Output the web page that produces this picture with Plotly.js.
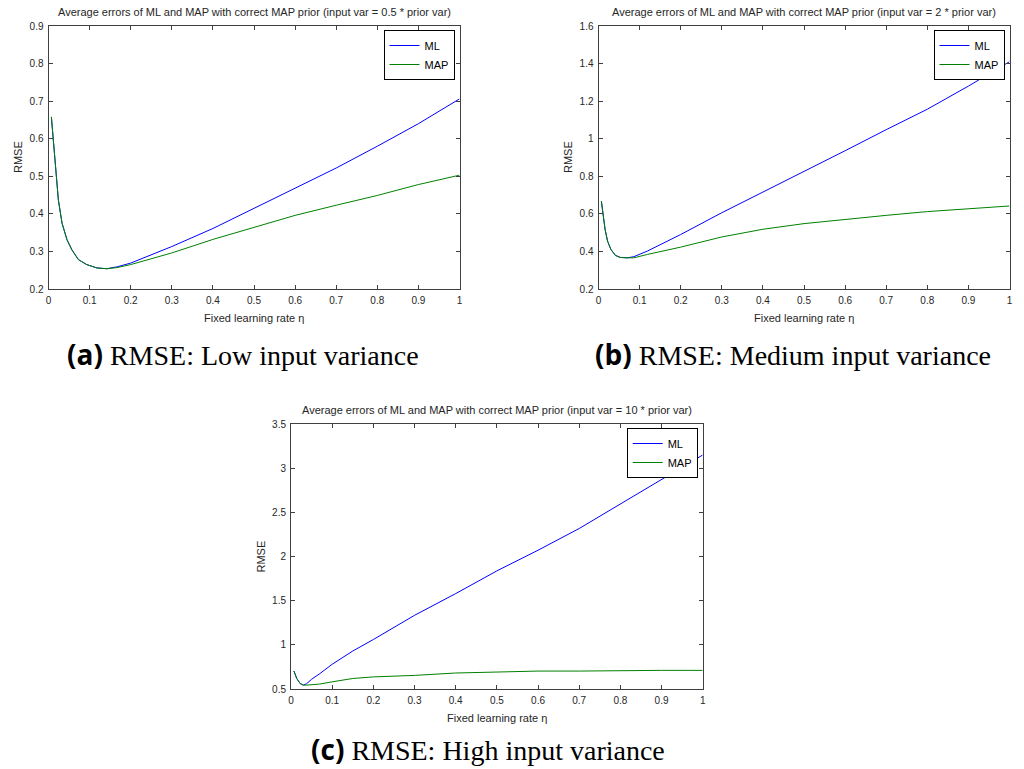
<!DOCTYPE html>
<html>
<head>
<meta charset="utf-8">
<script src="https://cdn.plot.ly/plotly-3.0.1.min.js"></script>
<style>
html,body{margin:0;padding:0;background:#fff;}
#chart{width:1024px;height:769px;}
</style>
</head>
<body>
<div id="chart"></div>
<script>
// ---- Data ----
const etaA = [0.007,0.011,0.014,0.019,0.024,0.033,0.045,0.057,0.073,0.093,0.118,0.142,0.167,0.2,0.3,0.4,0.5,0.6,0.7,0.8,0.9,1.0];
const mlA  = [0.658,0.605,0.57,0.499,0.437,0.375,0.331,0.304,0.278,0.265,0.256,0.254,0.259,0.269,0.313,0.361,0.414,0.468,0.522,0.58,0.64,0.706];
const mapA = [0.658,0.605,0.57,0.499,0.437,0.375,0.331,0.304,0.278,0.265,0.256,0.254,0.257,0.265,0.296,0.332,0.363,0.396,0.423,0.449,0.478,0.503];

const etaB = [0.007,0.012,0.016,0.022,0.030,0.041,0.053,0.070,0.086,0.119,0.16,0.2,0.3,0.4,0.5,0.6,0.7,0.8,0.9,1.0];
const mlB  = [0.667,0.588,0.517,0.455,0.411,0.379,0.368,0.366,0.372,0.402,0.446,0.49,0.606,0.716,0.823,0.936,1.048,1.157,1.28,1.41];
const mapB = [0.667,0.588,0.517,0.455,0.411,0.379,0.368,0.366,0.366,0.384,0.402,0.423,0.477,0.518,0.548,0.571,0.592,0.612,0.627,0.642];

const etaC = [0.007,0.014,0.022,0.030,0.038,0.05,0.07,0.1,0.15,0.2,0.3,0.4,0.5,0.6,0.7,0.8,0.9,1.0];
const mlC  = [0.704,0.619,0.563,0.544,0.56,0.61,0.674,0.78,0.93,1.06,1.334,1.58,1.837,2.071,2.317,2.593,2.865,3.149];
const mapC = [0.704,0.619,0.563,0.544,0.544,0.548,0.556,0.581,0.619,0.637,0.654,0.681,0.692,0.703,0.703,0.711,0.711,0.711];

const seriesNames = ["ML", "MAP"];
const xTicks = [0,0.1,0.2,0.3,0.4,0.5,0.6,0.7,0.8,0.9,1];
const yTicksA = [0.2,0.3,0.4,0.5,0.6,0.7,0.8,0.9];
const yTicksB = [0.2,0.4,0.6,0.8,1,1.2,1.4,1.6];
const yTicksC = [0.5,1,1.5,2,2.5,3,3.5];

const plotTitles = [
  "Average errors of ML and MAP with correct MAP prior (input var = 0.5 * prior var)",
  "Average errors of ML and MAP with correct MAP prior (input var = 2 * prior var)",
  "Average errors of ML and MAP with correct MAP prior (input var = 10 * prior var)"
];
const xLabel = "Fixed learning rate η";
const yLabel = "RMSE";
const captionTags = ["(a)", "(b)", "(c)"];
const captionTexts = ["RMSE: Low input variance", "RMSE: Medium input variance", "RMSE: High input variance"];

// ---- Layout helpers ----
const W = 1024, H = 769;
const px = v => v / W;
const py = v => 1 - v / H;

const colML = "#0000ff", colMAP = "#008000";
const tickFont = {family: "Liberation Sans, Arial, sans-serif", size: 10, color: "#262626"};
const smallFont = {family: "Liberation Sans, Arial, sans-serif", size: 11, color: "#262626"};
const frameCol = "#404040";

function axis(domain, range, ticks) {
  return {
    domain: domain, range: range, tickmode: "array", tickvals: ticks,
    ticks: "inside", ticklen: 4, tickcolor: frameCol, tickwidth: 1,
    showline: true, linecolor: frameCol, linewidth: 1, mirror: "ticks",
    showgrid: false, zeroline: false, tickfont: tickFont, ticklabelstandoff: 2,
    fixedrange: true
  };
}

const traces = [];
const sets = [
  {eta: etaA, ml: mlA, map: mapA, xa: "x", ya: "y", lg: "legend"},
  {eta: etaB, ml: mlB, map: mapB, xa: "x2", ya: "y2", lg: "legend2"},
  {eta: etaC, ml: mlC, map: mapC, xa: "x3", ya: "y3", lg: "legend3"}
];
sets.forEach(s => {
  traces.push({x: s.eta, y: s.ml, type: "scatter", mode: "lines", name: seriesNames[0],
    xaxis: s.xa, yaxis: s.ya, legend: s.lg, line: {color: colML, width: 1}});
  traces.push({x: s.eta, y: s.map, type: "scatter", mode: "lines", name: seriesNames[1],
    xaxis: s.xa, yaxis: s.ya, legend: s.lg, line: {color: colMAP, width: 1}});
});

// plot boxes in pixels
const boxes = [
  {l: 48.5, r: 459.5, t: 26, b: 289},
  {l: 598.5, r: 1009.5, t: 26, b: 289},
  {l: 291, r: 702.7, t: 424, b: 689}
];
const yRanges = [[0.2, 0.9], [0.2, 1.6], [0.5, 3.5]];
const yTickSets = [yTicksA, yTicksB, yTicksC];

function legendFor(b) {
  return {
    x: px(b.r - 5), y: py(b.t + 4), xanchor: "right", yanchor: "top",
    bgcolor: "#ffffff", bordercolor: "#000000", borderwidth: 1,
    font: {family: "Liberation Sans, Arial, sans-serif", size: 11, color: "#000"},
    tracegroupgap: 0, itemwidth: 30
  };
}

const layout = {
  width: W, height: H,
  margin: {l: 0, r: 0, t: 0, b: 0},
  paper_bgcolor: "#ffffff", plot_bgcolor: "#ffffff",
  showlegend: true,
  legend: legendFor(boxes[0]),
  legend2: legendFor(boxes[1]),
  legend3: legendFor(boxes[2]),
  annotations: []
};
["", "2", "3"].forEach((k, i) => {
  const b = boxes[i];
  layout["xaxis" + k] = axis([px(b.l), px(b.r)], [0, 1], xTicks);
  layout["yaxis" + k] = axis([py(b.b), py(b.t)], yRanges[i], yTickSets[i]);
  layout["xaxis" + k].anchor = "y" + k;
  layout["yaxis" + k].anchor = "x" + k;
  const cx = (b.l + b.r) / 2, cy = (b.t + b.b) / 2;
  layout.annotations.push({text: plotTitles[i], xref: "paper", yref: "paper",
    x: px(cx), y: py(b.t - 14), xanchor: "center", yanchor: "middle", showarrow: false, font: smallFont});
  layout.annotations.push({text: xLabel, xref: "paper", yref: "paper",
    x: px(cx), y: py(b.b + 29), xanchor: "center", yanchor: "middle", showarrow: false, font: smallFont});
  layout.annotations.push({text: yLabel, xref: "paper", yref: "paper", textangle: -90,
    x: px(b.l - 31), y: py(cy), xanchor: "center", yanchor: "middle", showarrow: false, font: smallFont});
});

// captions
const capPos = [{x: 243, y: 354}, {x: 793, y: 354}, {x: 488, y: 749}];
capPos.forEach((c, i) => {
  layout.annotations.push({
    text: '<span style="font-family:\'Open Sans\', \'DejaVu Sans\', sans-serif;font-weight:bold">' + captionTags[i] + '</span> ' + captionTexts[i],
    xref: "paper", yref: "paper", x: px(c.x), y: py(c.y), xanchor: "center", yanchor: "middle",
    showarrow: false, font: {family: "Liberation Serif, Times New Roman, serif", size: 28, color: "#000"}
  });
});

Plotly.newPlot("chart", traces, layout, {displayModeBar: false, staticPlot: true});
</script>
</body>
</html>
